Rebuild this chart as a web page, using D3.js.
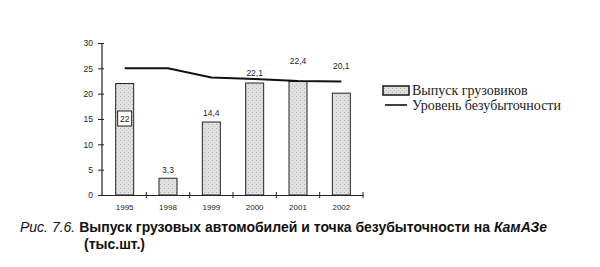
<!DOCTYPE html>
<html><head><meta charset="utf-8">
<script src="https://cdn.jsdelivr.net/npm/d3@7"></script>
<style>body{margin:0;background:#fff}svg{display:block}</style>
</head><body>
<svg id="c" width="600" height="267"></svg>
<script>
const years = ["1995","1998","1999","2000","2001","2002"];
const output = [22, 3.3, 14.4, 22.1, 22.4, 20.1];
const outputLabels = ["22","3,3","14,4","22,1","22,4","20,1"];
const breakeven = [25, 25, 23.2, 22.9, 22.5, 22.4];
const yTicks = [0,5,10,15,20,25,30];
const legendNames = ["Выпуск грузовиков","Уровень безубыточности"];

const svg = d3.select("#c");
const xb = d3.scaleBand().domain(years).range([103, 363]);
const y = d3.scaleLinear().domain([0,30]).range([195, 43]);

const defs = svg.append("defs");
const pat = defs.append("pattern").attr("id","stip").attr("patternUnits","userSpaceOnUse").attr("width",4).attr("height",4);
pat.append("rect").attr("width",4).attr("height",4).attr("fill","#e0e0e0");
pat.append("rect").attr("x",0).attr("y",0).attr("width",1).attr("height",1).attr("fill","#b4b4b4");
pat.append("rect").attr("x",2).attr("y",2).attr("width",1).attr("height",1).attr("fill","#c6c6c6");

// y axis
const ya = svg.append("g").attr("transform","translate(102,0)")
  .call(d3.axisLeft(y).tickValues(yTicks).tickSize(4).tickPadding(5));
ya.select(".domain").attr("stroke","#222").attr("stroke-width",1.2).attr("d","M0,195V43");
ya.selectAll(".tick line").attr("x1",-4).attr("x2",2).attr("stroke","#222");
ya.selectAll("text").attr("font-family","Liberation Sans, Arial").attr("font-size",8.5).attr("fill","#222");

// bars
svg.selectAll("rect.bar").data(years).join("rect").attr("class","bar")
  .attr("x", d => xb(d) + xb.bandwidth()/2 - 9)
  .attr("width", 18)
  .attr("y", (d,i) => y(output[i]))
  .attr("height", (d,i) => y(0) - y(output[i]))
  .attr("fill","url(#stip)").attr("stroke","#222").attr("stroke-width",1);

// x axis
const xa = svg.append("g").attr("transform","translate(0,195)")
  .call(d3.axisBottom(xb).tickSize(0).tickPadding(9));
xa.select(".domain").attr("stroke","#222").attr("stroke-width",1.2);
xa.selectAll("text").attr("font-family","Liberation Sans, Arial").attr("font-size",8).attr("fill","#222");
svg.append("g").selectAll("line").data(years).join("line")
  .attr("x1", d => xb(d) + xb.bandwidth()).attr("x2", d => xb(d) + xb.bandwidth())
  .attr("y1", 192).attr("y2", 198).attr("stroke","#222");

// breakeven line
const line = d3.line().x((d,i) => xb(years[i]) + xb.bandwidth()/2).y(d => y(d));
svg.append("path").datum(breakeven).attr("d", line).attr("fill","none")
  .attr("stroke","#111").attr("stroke-width",2);

// box around first label
svg.append("rect").attr("x", xb(years[0]) + xb.bandwidth()/2 - 7).attr("y", y(15) - 8)
  .attr("width",14).attr("height",15).attr("fill","#fff").attr("stroke","#222").attr("stroke-width",1);

// value labels
const labOff = [0, 8, 9, 10, 21, 27];
svg.selectAll("text.vl").data(years).join("text").attr("class","vl")
  .attr("x", d => xb(d) + xb.bandwidth()/2)
  .attr("y", (d,i) => i === 0 ? y(15) + 3 : y(output[i]) - labOff[i] + 3)
  .attr("text-anchor","middle").attr("font-family","Liberation Sans, Arial")
  .attr("font-size",8.5).attr("fill","#222")
  .text((d,i) => outputLabels[i]);

// legend
svg.append("rect").attr("x",383).attr("y",86).attr("width",26).attr("height",9)
  .attr("fill","url(#stip)").attr("stroke","#222").attr("stroke-width",1.6);
svg.append("line").attr("x1",385).attr("x2",407).attr("y1",105).attr("y2",105).attr("stroke","#111").attr("stroke-width",1.6);
svg.selectAll("text.lg").data(legendNames).join("text").attr("class","lg")
  .attr("x",412).attr("y",(d,i) => 95 + i*14.5)
  .attr("font-family","Liberation Serif, Times New Roman").attr("font-size",14).attr("fill","#222")
  .text(d => d);

// caption
const cap = svg.append("text").attr("x",20).attr("y",232).attr("font-family","Liberation Sans, Arial").attr("font-size",14).attr("fill","#111");
cap.append("tspan").attr("font-style","italic").text("Рис. 7.6. ");
cap.append("tspan").attr("font-weight","bold").text("Выпуск грузовых автомобилей и точка безубыточности на ");
cap.append("tspan").attr("font-weight","bold").attr("font-style","italic").text("КамАЗе");
svg.append("text").attr("x",84).attr("y",249).attr("font-family","Liberation Sans, Arial").attr("font-size",14)
  .attr("font-weight","bold").attr("fill","#111").text("(тыс.шт.)");
</script>
</body></html>
